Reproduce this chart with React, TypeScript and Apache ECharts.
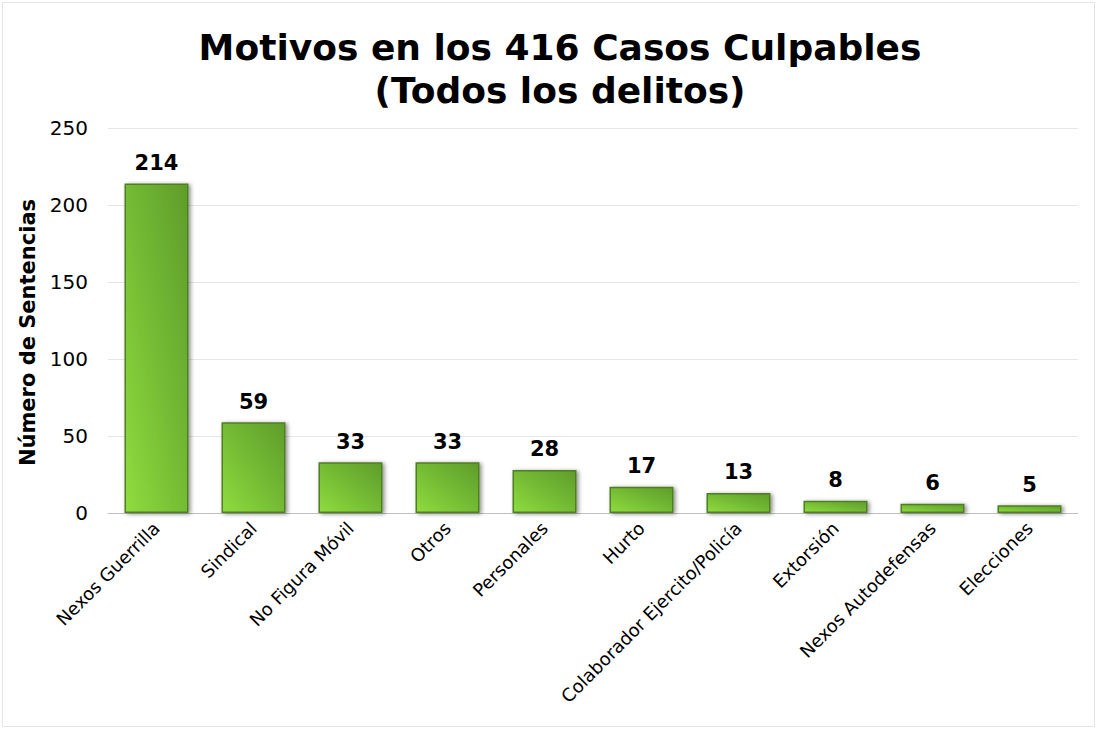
import React, { useEffect, useRef } from "react";
import * as echarts from "echarts";

const categories = [
  "Nexos Guerrilla",
  "Sindical",
  "No Figura Móvil",
  "Otros",
  "Personales",
  "Hurto",
  "Colaborador Ejercito/Policía",
  "Extorsión",
  "Nexos Autodefensas",
  "Elecciones",
];
const values = [214, 59, 33, 33, 28, 17, 13, 8, 6, 5];
const titleText = "Motivos en los 416 Casos Culpables\n(Todos los delitos)";
const yAxisName = "Número de Sentencias";

const FONT = "DejaVu Sans, Verdana, sans-serif";

export default function App() {
  const ref = useRef<HTMLDivElement>(null);
  useEffect(() => {
    if (!ref.current) return;
    const chart = echarts.init(ref.current, undefined, { renderer: "svg" });
    chart.setOption({
      animation: false,
      backgroundColor: "#ffffff",
      title: {
        text: titleText,
        left: 555,
        textAlign: "center",
        top: 21,
        textStyle: {
          fontFamily: FONT,
          fontSize: 36,
          fontWeight: "bold",
          color: "#000",
          lineHeight: 43,
        },
      },
      graphic: [
        {
          type: "rect",
          shape: { x: 2.5, y: 2.5, width: 1092, height: 724 },
          style: { fill: "none", stroke: "#e4e4e4", lineWidth: 1 },
          silent: true,
        },
      ],
      grid: { left: 108, right: 19, top: 128, bottom: 216 },
      xAxis: {
        type: "category",
        data: categories,
        axisLine: { show: true, lineStyle: { color: "#bfbfbf", width: 1 } },
        axisTick: { show: false },
        axisLabel: {
          rotate: 45,
          interval: 0,
          fontFamily: FONT,
          fontSize: 18,
          color: "#000",
          margin: 12,
        },
      },
      yAxis: {
        type: "value",
        min: 0,
        max: 250,
        interval: 50,
        name: yAxisName,
        nameLocation: "middle",
        nameGap: 70,
        nameTextStyle: {
          fontFamily: FONT,
          fontSize: 21,
          fontWeight: "bold",
          color: "#000",
          padding: [0, 24, 0, 0],
        },
        axisLine: { show: false },
        axisTick: { show: false },
        axisLabel: {
          fontFamily: FONT,
          fontSize: 20,
          color: "#000",
          margin: 20,
        },
        splitLine: { lineStyle: { color: "#e6e6e6", width: 1 } },
      },
      series: [
        {
          type: "bar",
          data: values,
          barWidth: 64,
          itemStyle: {
            color: new echarts.graphic.LinearGradient(0, 1, 1, 0, [
              { offset: 0, color: "#8fdc3e" },
              { offset: 0.5, color: "#74bb34" },
              { offset: 1, color: "#5f9c2b" },
            ]),
            borderColor: "#4f7f23",
            borderWidth: 1.5,
            shadowColor: "rgba(0,0,0,0.45)",
            shadowBlur: 4,
            shadowOffsetX: 2,
            shadowOffsetY: 1,
          },
          label: {
            show: true,
            position: "top",
            distance: 10,
            fontFamily: FONT,
            fontSize: 21,
            fontWeight: "bold",
            color: "#000",
          },
        },
      ],
    });
    return () => chart.dispose();
  }, []);
  return (
    <div
      ref={ref}
      style={{ position: "fixed", left: 0, top: 0, width: 1097, height: 729 }}
    />
  );
}
